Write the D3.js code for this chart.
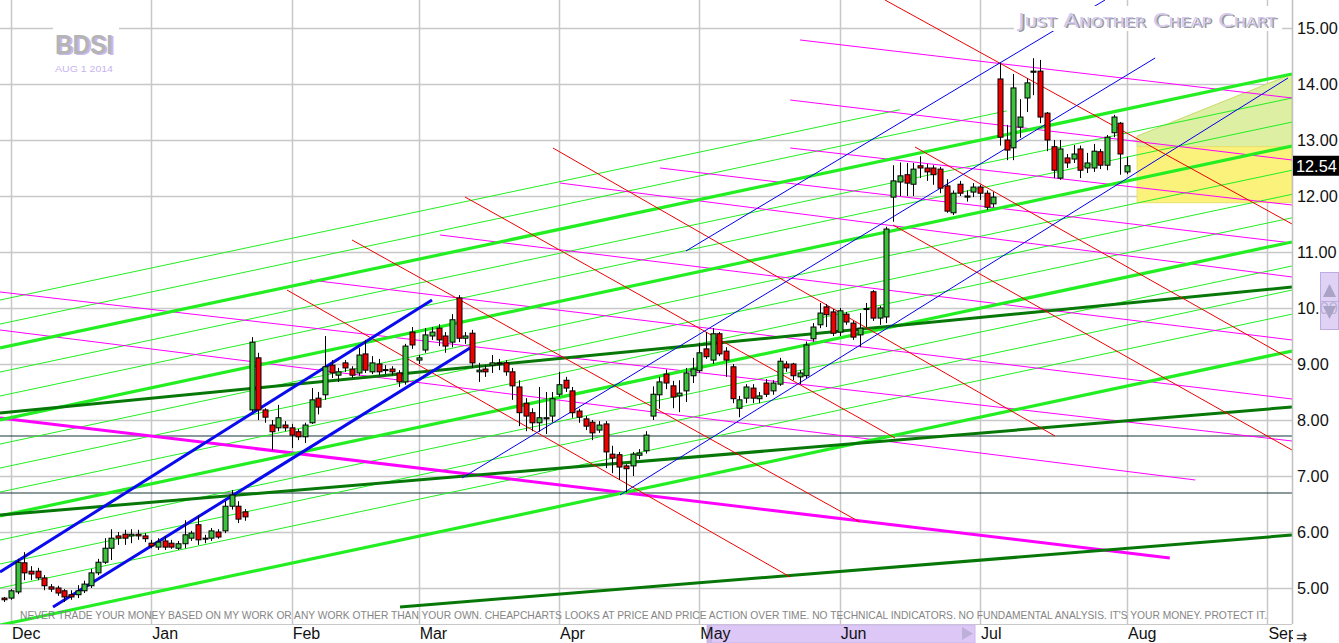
<!DOCTYPE html>
<html><head><meta charset="utf-8">
<script src="https://cdn.jsdelivr.net/npm/d3@7"></script>
<style>html,body{margin:0;padding:0;background:#fff;overflow:hidden}</style>
</head><body>
<svg id="c" width="1339" height="643"></svg>
<script>
// ---------------- data ----------------
const symbol = "BDSI";
const chartDate = "AUG 1 2014";
const title = "Just Another Cheap Chart";
const disclaimer = "NEVER TRADE YOUR MONEY BASED ON MY WORK OR ANY WORK OTHER THAN YOUR OWN. CHEAPCHARTS LOOKS AT PRICE AND PRICE ACTION OVER TIME. NO TECHNICAL INDICATORS. NO FUNDAMENTAL ANALYSIS. IT'S YOUR MONEY. PROTECT IT.";
const firstSession = "2013-11-29";
const lastAxisDay = "2014-09-30";
const holidays = ["2013-12-25","2014-01-01","2014-01-20","2014-02-17","2014-04-18","2014-05-26","2014-07-04","2014-09-01"];
const priceTicks = [5,6,7,8,9,10,11,12,13,14,15];
const lastPrice = 12.54;

const opens = [4.82,4.82,4.93,5.45,5.30,5.30,5.18,5.02,5.00,4.95,4.88,4.88,4.95,5.04,5.27,5.46,5.71,5.93,5.96,5.93,5.96,5.93,5.80,5.73,5.84,5.80,5.71,5.79,5.89,6.13,5.88,5.89,6.00,6.02,6.46,6.46,6.36,
8.18,9.11,8.18,7.91,7.86,7.91,7.86,7.79,7.70,7.95,8.39,8.45,8.98,8.80,9.02,8.91,8.84,9.18,8.86,9.00,8.89,8.91,8.84,8.68,9.57,9.07,9.25,9.50,9.64,9.50,9.39,10.18,9.46,9.55,
8.86,8.91,8.98,9.02,9.02,8.86,8.59,8.30,8.13,7.95,8.02,8.07,8.46,8.71,8.52,8.16,8.02,7.96,7.82,7.93,7.39,7.38,7.18,7.18,7.37,7.45,8.07,8.45,8.82,8.61,
8.43,8.52,8.79,8.88,9.27,9.07,9.54,9.23,8.95,8.21,8.39,8.57,8.38,8.66,8.52,8.64,9.00,9.00,8.77,8.79,9.45,9.70,10.02,9.93,9.57,9.89,9.73,9.52,9.98,10.29,9.82,9.84,
11.98,12.25,12.38,12.21,12.54,12.50,12.50,12.48,12.18,11.70,12.21,11.98,12.07,12.16,12.05,11.86,
14.09,13.00,12.86,13.23,13.75,14.21,14.23,13.48,12.88,12.32,12.68,12.66,12.84,12.50,12.50,12.79,12.55,13.13,13.30,12.43];
const highs = [4.84,4.98,5.52,5.64,5.39,5.36,5.23,5.07,5.04,4.98,4.96,5.05,5.13,5.34,5.52,5.89,6.05,6.00,6.04,6.05,6.04,5.98,5.86,5.89,5.93,5.86,5.84,6.21,6.02,6.30,5.95,6.07,6.05,6.55,6.75,6.55,6.41,
9.48,9.20,8.21,8.00,8.27,7.98,7.93,7.84,7.95,8.57,8.50,9.50,9.07,8.93,9.07,8.96,9.29,9.43,9.14,9.09,8.98,8.96,8.89,9.36,9.66,9.16,9.64,9.66,9.71,9.57,9.89,10.23,9.57,9.61,
9.02,8.98,9.16,9.09,9.07,8.93,8.71,8.39,8.21,8.59,8.50,8.50,8.86,8.77,8.59,8.20,8.07,8.00,7.98,7.98,7.54,7.43,7.21,7.43,7.48,7.80,8.60,8.77,8.90,8.70,
8.71,8.93,9.11,9.38,9.57,9.64,9.57,9.30,9.00,8.43,8.64,8.64,8.50,8.73,8.71,9.11,9.05,9.02,8.89,9.40,9.73,10.09,10.07,9.98,10.00,9.93,9.77,9.91,10.09,10.32,10.04,11.45,
12.55,12.60,12.59,12.59,12.71,12.57,12.55,12.52,12.30,12.10,12.27,12.10,12.23,12.20,12.10,12.07,
14.38,13.27,14.18,13.73,14.10,14.46,14.43,13.50,13.00,13.00,12.75,12.91,12.90,12.77,12.93,12.84,13.09,13.45,13.32,12.70];
const lows = [4.75,4.79,4.89,5.14,5.14,5.14,4.96,4.93,4.86,4.75,4.79,4.82,4.91,5.00,5.23,5.43,5.50,5.77,5.77,5.80,5.86,5.82,5.71,5.68,5.68,5.70,5.68,5.71,5.84,5.77,5.80,5.84,5.88,5.98,6.40,6.16,6.20,
8.14,8.00,7.95,7.46,7.80,7.80,7.50,7.64,7.59,7.93,8.10,8.36,8.75,8.68,8.86,8.75,8.79,8.84,8.82,8.80,8.82,8.80,8.59,8.63,9.27,9.00,9.20,9.43,9.32,9.20,9.30,9.39,9.36,8.93,
8.68,8.77,8.84,8.89,8.79,8.36,7.89,7.80,7.80,7.79,7.75,7.96,8.41,8.50,8.04,7.95,7.82,7.64,7.77,7.14,7.05,6.93,6.71,7.00,7.30,7.40,8.00,8.20,8.55,8.21,
8.14,8.32,8.66,8.84,9.09,9.00,9.14,8.77,8.30,8.05,8.30,8.30,8.30,8.41,8.45,8.61,8.86,8.71,8.64,8.75,9.40,9.64,9.66,9.50,9.50,9.70,9.43,9.30,9.66,9.77,9.70,9.73,
11.54,12.00,12.00,12.00,12.32,12.27,12.20,12.05,11.70,11.66,12.00,11.90,11.98,11.93,11.75,11.80,
12.90,12.64,12.64,13.04,13.50,13.80,13.30,12.80,12.32,12.29,12.50,12.59,12.32,12.41,12.43,12.48,12.46,13.05,12.38,12.39];
const closes = [4.79,4.95,5.46,5.27,5.25,5.18,5.04,4.98,4.91,4.84,4.84,4.95,5.07,5.27,5.46,5.71,5.89,5.89,5.89,5.96,5.93,5.88,5.75,5.82,5.73,5.73,5.79,5.95,5.98,5.86,5.89,6.02,5.91,6.46,6.66,6.23,6.27,
9.39,8.18,8.05,7.79,8.04,7.86,7.73,7.70,7.91,8.36,8.23,8.95,8.84,8.86,8.93,8.80,9.16,8.89,9.02,8.86,8.90,8.86,8.68,9.32,9.34,9.11,9.52,9.57,9.43,9.32,9.79,9.46,9.50,9.02,
8.89,8.86,9.02,9.00,8.86,8.61,8.13,8.07,7.95,8.04,8.04,8.38,8.63,8.57,8.13,8.05,7.89,7.77,7.91,7.43,7.32,7.16,7.13,7.39,7.41,7.73,8.46,8.68,8.66,8.41,
8.48,8.84,8.91,9.20,9.13,9.54,9.18,9.07,8.38,8.36,8.59,8.39,8.43,8.46,8.66,9.05,8.93,8.79,8.84,9.34,9.66,9.91,9.88,9.55,9.95,9.75,9.48,9.64,9.99,9.82,10.00,11.41,
12.27,12.36,12.23,12.48,12.50,12.43,12.38,12.14,11.73,12.05,12.05,12.00,12.16,12.05,11.80,11.98,
13.05,12.82,13.93,13.41,14.02,14.23,13.41,13.00,12.46,12.84,12.59,12.75,12.46,12.59,12.80,12.55,13.05,13.41,12.75,12.54];

// trend lines: [session index start, price start, session index end, price end]
const greenMajor = [[-0.64,9.286,192.68,14.179],[-0.64,8.0,192.68,12.893],[-0.64,6.286,192.68,11.179],[-0.64,4.339,192.68,9.232]];
const greenMinor = [[-0.64,10.143,134,13.54],[-0.64,9.714,150,13.52],[-0.64,8.857,192.68,13.75],[-0.64,8.429,192.68,13.32],
  [-0.64,7.571,192.68,12.46],[-0.64,7.143,192.68,12.03],[-0.64,6.714,192.68,11.61],[-0.64,5.857,192.68,10.75],[-0.64,5.429,192.68,10.32],[-0.64,5.0,192.68,9.89]];
const magentaThin = [[119.06,14.786,192.68,13.75],[117.6,13.714,192.68,12.643],[117.6,12.857,192.68,11.839],[98.11,12.5,192.68,11.161],
  [83.15,12.232,192.68,10.554],[65.2,11.304,192.68,9.429],[45.74,10.5,192.68,8.375],[-0.64,10.286,192.68,7.625],[-0.64,9.607,178.2,6.929]];
const magentaThick = [[-0.64,8.036,174.4,5.536]];
const blueThick = [[-0.64,5.286,64.0,10.143],[7.29,4.661,69.68,9.286]];
const blueThin = [[102.0,11.018,164.7,15.5],[68.48,6.964,172.2,14.464],[92.13,6.661,192.08,14.107]];
const redLines = [[42.30,10.321,117.6,5.196],[52.03,11.214,128.0,6.179],[68.94,11.982,133.28,7.679],[82.10,12.857,157.22,7.714],
  [132.98,11.482,192.68,7.464],[136.27,12.875,192.68,9.071],[131.78,15.5,192.68,11.5]];
const darkGreen = [[-0.64,8.125,192.68,10.375],[-0.64,6.304,192.68,8.232],[59.21,4.661,192.68,5.946]];
const levels = [7.714,6.696];
// zones: [start index, end index, top price at start, top price at end, bottom price]
const greenZone = [169.5,192.68,13.07,14.179,12.88];
const yellowZone = [169.5,192.68,12.88,12.88,11.88];

// ---------------- layout ----------------
const plotW = 1292, plotH = 624;
const svg = d3.select('#c');
const x = d3.scaleLinear().domain([-0.643, 192.68]).range([0, plotW]);
const y = d3.scaleLinear().domain([4.357, 15.5]).range([plotH, 0]);

const hol = new Set(holidays);
const fmt = d3.timeFormat("%Y-%m-%d");
const sessions = [];
for (let d = new Date(firstSession + "T12:00:00"); d <= new Date(lastAxisDay + "T12:00:00"); d.setDate(d.getDate() + 1)) {
  const wd = d.getDay();
  if (wd > 0 && wd < 6 && !hol.has(fmt(d))) sessions.push(new Date(d));
}
const monthTicks = [];
sessions.forEach((d, i) => { if (i > 0 && d.getMonth() !== sessions[i - 1].getMonth()) monthTicks.push({i, d}); });

svg.append('rect').attr('width', 1339).attr('height', 643).attr('fill', '#fff');
svg.append('defs').append('clipPath').attr('id', 'clip')
  .append('rect').attr('x', 0).attr('y', 0).attr('width', plotW).attr('height', plotH);

const grid = svg.append('g');
grid.selectAll('line.h').data(priceTicks).join('line')
  .attr('x1', 0).attr('x2', plotW).attr('y1', d => Math.round(y(d)) + 0.5).attr('y2', d => Math.round(y(d)) + 0.5)
  .attr('stroke', '#c8c8c8').attr('stroke-width', 1.5);
grid.selectAll('line.v').data(monthTicks).join('line')
  .attr('x1', d => Math.round(x(d.i)) + 0.5).attr('x2', d => Math.round(x(d.i)) + 0.5).attr('y1', 0).attr('y2', plotH)
  .attr('stroke', '#c8c8c8').attr('stroke-width', 1.5);

const plot = svg.append('g').attr('clip-path', 'url(#clip)');

function zone(z, fill, stroke) {
  const pts = [[z[0], z[2]], [z[1], z[3]], [z[1], z[4]], [z[0], z[4]]];
  plot.append('polygon').attr('points', pts.map(p => x(p[0]) + ',' + y(p[1])).join(' '))
    .attr('fill', fill).attr('stroke', stroke).attr('stroke-width', 1);
}
zone(greenZone, '#dcefa2', '#c9dc6a');
zone(yellowZone, '#faf27a', '#e8e070');

function drawLines(arr, color, w) {
  plot.append('g').selectAll('line').data(arr).join('line')
    .attr('x1', d => x(d[0])).attr('y1', d => y(d[1])).attr('x2', d => x(d[2])).attr('y2', d => y(d[3]))
    .attr('stroke', color).attr('stroke-width', w);
}
plot.append('g').selectAll('line').data(levels).join('line')
  .attr('x1', 0).attr('x2', plotW).attr('y1', d => y(d)).attr('y2', d => y(d))
  .attr('stroke', '#173636').attr('stroke-width', 1.2);
drawLines(greenMinor, '#22ee22', 1);
drawLines(magentaThin, '#ff00ff', 1);
drawLines(magentaThick, '#ff00ff', 3);
drawLines(greenMajor, '#22ee22', 3.2);
drawLines(darkGreen, '#077807', 3);
drawLines(redLines, '#ee0000', 1);
drawLines(blueThin, '#0000ee', 1);
drawLines(blueThick, '#0a0aee', 3);

const candles = opens.map((o, i) => ({i, o, h: highs[i], l: lows[i], c: closes[i]}));
const cg = plot.append('g');
cg.selectAll('line').data(candles).join('line')
  .attr('x1', d => Math.round(x(d.i)) + 0.5).attr('x2', d => Math.round(x(d.i)) + 0.5)
  .attr('y1', d => y(d.h)).attr('y2', d => y(d.l)).attr('stroke', '#000').attr('stroke-width', 1);
cg.selectAll('rect').data(candles).join('rect')
  .attr('x', d => Math.round(x(d.i)) - 2)
  .attr('y', d => y(Math.max(d.o, d.c)))
  .attr('width', 5)
  .attr('height', d => Math.max(1, Math.abs(y(d.o) - y(d.c))))
  .attr('fill', d => d.c >= d.o ? '#3cc23c' : '#ee0000')
  .attr('stroke', '#000').attr('stroke-width', 1);

svg.append('line').attr('x1', plotW + 0.5).attr('x2', plotW + 0.5).attr('y1', 0).attr('y2', plotH)
  .attr('stroke', '#c0c0c0').attr('stroke-width', 1.5);
svg.append('line').attr('x1', 0).attr('x2', plotW).attr('y1', plotH + 0.5).attr('y2', plotH + 0.5)
  .attr('stroke', '#c8c8c8').attr('stroke-width', 1);

const axisFont = 'Liberation Sans, Arial, sans-serif';
svg.append('g').selectAll('text').data(priceTicks).join('text')
  .attr('x', 1297).attr('y', d => y(d) + 6)
  .attr('font-family', axisFont).attr('font-size', 16.3).attr('fill', '#111')
  .text(d => d3.format('.2f')(d));
svg.append('rect').attr('x', 1293).attr('y', y(lastPrice) - 10).attr('width', 46).attr('height', 20).attr('fill', '#000');
svg.append('text').attr('x', 1296).attr('y', y(lastPrice) + 6)
  .attr('font-family', axisFont).attr('font-size', 16.3).attr('fill', '#fff')
  .text(d3.format('.2f')(lastPrice));

svg.append('rect').attr('x', 1320.5).attr('y', 272.5).attr('width', 18).attr('height', 57)
  .attr('fill', '#d9caf3').attr('stroke', '#bcaee0').attr('fill-opacity', 0.85);
svg.append('line').attr('x1', 1321).attr('x2', 1338).attr('y1', 301.5).attr('y2', 301.5).attr('stroke', '#bcaee0');
svg.append('path').attr('d', 'M1323,297 L1336,297 L1329.5,284 Z').attr('fill', '#a9a3c6');
svg.append('path').attr('d', 'M1323,306 L1336,306 L1329.5,319 Z').attr('fill', '#a9a3c6');

svg.append('rect').attr('x', 707).attr('y', 625).attr('width', 268).attr('height', 18).attr('fill', '#dcc7f7').attr('stroke', '#cbb8ea');
svg.append('rect').attr('x', 707).attr('y', 625).attr('width', 5).attr('height', 18).attr('fill', '#c9b5e6');
svg.append('path').attr('d', 'M962,627 L973,633.5 L962,640 Z').attr('fill', '#bdb0d8');

svg.append('g').selectAll('text').data(monthTicks).join('text')
  .attr('x', d => x(d.i) + 1).attr('y', 639)
  .attr('font-family', axisFont).attr('font-size', 16).attr('fill', '#111')
  .text(d => d3.timeFormat('%b')(d.d));
svg.append('rect').attr('x', 1293).attr('y', 625).attr('width', 46).attr('height', 18).attr('fill', '#fff');
svg.append('text').attr('x', 1296).attr('y', 641).attr('font-family', 'DejaVu Sans').attr('font-size', 13).attr('fill', '#222').text('⇉');

svg.append('text').attr('x', 20).attr('y', 619).attr('textLength', 1247).attr('lengthAdjust', 'spacingAndGlyphs')
  .attr('font-family', 'Liberation Sans Narrow, Liberation Sans, Arial, sans-serif').attr('font-size', 10.5).attr('fill', '#858585')
  .text(disclaimer);

svg.append('rect').attr('x', 53).attr('y', 24).attr('width', 66).attr('height', 52).attr('fill', '#fff');
svg.append('text').attr('x', 57).attr('y', 55).attr('textLength', 58).attr('lengthAdjust', 'spacingAndGlyphs')
  .attr('font-family', axisFont).attr('font-weight', 'bold').attr('font-size', 28).attr('fill', '#cbb8f2').text(symbol);
svg.append('text').attr('x', 55).attr('y', 54).attr('textLength', 58).attr('lengthAdjust', 'spacingAndGlyphs')
  .attr('font-family', axisFont).attr('font-weight', 'bold').attr('font-size', 28).attr('fill', '#b4b4b4').text(symbol);
svg.append('text').attr('x', 55).attr('y', 72).attr('textLength', 58).attr('lengthAdjust', 'spacingAndGlyphs')
  .attr('font-family', axisFont).attr('font-size', 9.5).attr('fill', '#c7b4f0').text(chartDate);

svg.append('rect').attr('x', 1014).attr('y', 6).attr('width', 268).attr('height', 25).attr('fill', '#fff');
svg.append('text').attr('x', 1020).attr('y', 28).attr('textLength', 258).attr('lengthAdjust', 'spacingAndGlyphs')
  .attr('font-family', 'DejaVu Sans, sans-serif').attr('font-size', 20).style('font-variant', 'small-caps').attr('fill', '#9a9a9a').text(title);
svg.append('text').attr('x', 1018).attr('y', 27).attr('textLength', 258).attr('lengthAdjust', 'spacingAndGlyphs')
  .attr('font-family', 'DejaVu Sans, sans-serif').attr('font-size', 20).style('font-variant', 'small-caps').attr('fill', '#d2c8f0').text(title);
</script>
</body></html>
